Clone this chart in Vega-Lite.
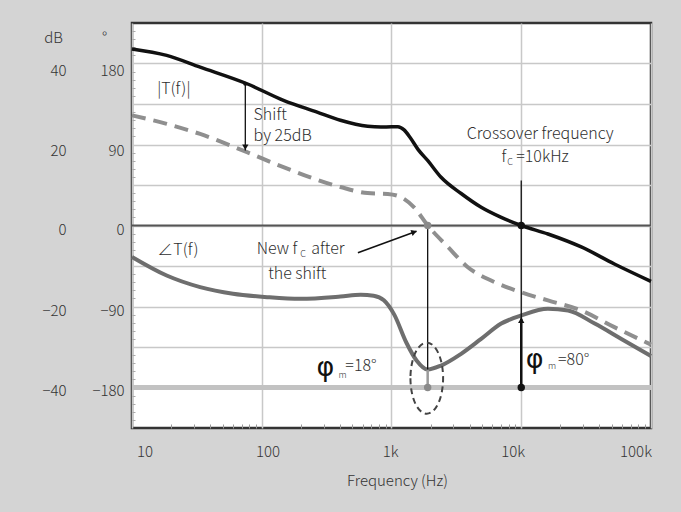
{
  "$schema": "https://vega.github.io/schema/vega-lite/v6.json",
  "width": 519,
  "height": 405,
  "autosize": "none",
  "padding": {"left": 132, "top": 23, "right": 30, "bottom": 84},
  "background": "#d4d4d4",
  "config": {
    "view": {"fill": "white", "stroke": "#333333", "strokeWidth": 2.5},
    "axis": {"labelFont": "Noto Sans CJK KR", "titleFont": "Noto Sans CJK KR", "labelFontWeight": 300, "titleFontWeight": 300, "labelColor": "#333333", "titleColor": "#333333", "labelFontSize": 15, "titleFontSize": 15},
    "text": {"font": "Noto Sans CJK KR", "fontWeight": 300, "fontSize": 16, "color": "#2e2e2e", "baseline": "middle"}
  },
  "datasets": {
    "mag": [
      {"f": 10, "db": 43.6}, {"f": 18.5, "db": 42.0}, {"f": 33.5, "db": 39.1}, {"f": 77, "db": 35.0},
      {"f": 147, "db": 30.9}, {"f": 267, "db": 28.0}, {"f": 404, "db": 26.0}, {"f": 655, "db": 24.5},
      {"f": 830, "db": 24.3}, {"f": 1000, "db": 24.4}, {"f": 1120, "db": 24.4}, {"f": 1250, "db": 23.6},
      {"f": 1400, "db": 21.6}, {"f": 1600, "db": 18.8}, {"f": 1905, "db": 16.0}, {"f": 2410, "db": 11.9},
      {"f": 3440, "db": 7.9}, {"f": 4910, "db": 4.5}, {"f": 7010, "db": 2.0}, {"f": 10000, "db": 0},
      {"f": 16070, "db": -2.1}, {"f": 29000, "db": -5.3}, {"f": 52200, "db": -9.5}, {"f": 100000, "db": -13.8}
    ],
    "shifted": [
      {"f": 10, "db": 27.2}, {"f": 18.5, "db": 25.1}, {"f": 33.5, "db": 22.6}, {"f": 77, "db": 18.1},
      {"f": 147, "db": 14.4}, {"f": 404, "db": 9.5}, {"f": 655, "db": 8.0}, {"f": 936, "db": 7.8},
      {"f": 1183, "db": 7.0}, {"f": 1493, "db": 4.5}, {"f": 1905, "db": 0}, {"f": 2718, "db": -5.3},
      {"f": 3875, "db": -10.3}, {"f": 5860, "db": -13.6}, {"f": 10000, "db": -16.5}, {"f": 16070, "db": -18.5},
      {"f": 29000, "db": -21.0}, {"f": 52200, "db": -25.1}, {"f": 100000, "db": -29.4}
    ],
    "phase": [
      {"f": 10, "deg": -35}, {"f": 18.5, "deg": -55.6}, {"f": 33.5, "deg": -68.5}, {"f": 60, "deg": -75.9},
      {"f": 110, "deg": -79.6}, {"f": 198, "deg": -81.5}, {"f": 404, "deg": -79}, {"f": 579, "deg": -77},
      {"f": 728, "deg": -78}, {"f": 873, "deg": -83}, {"f": 1050, "deg": -99}, {"f": 1300, "deg": -130},
      {"f": 1560, "deg": -150}, {"f": 1900, "deg": -160}, {"f": 2410, "deg": -155.6}, {"f": 3440, "deg": -142.6},
      {"f": 4910, "deg": -126}, {"f": 7010, "deg": -109}, {"f": 10000, "deg": -100}, {"f": 16070, "deg": -92.6},
      {"f": 22960, "deg": -94.4}, {"f": 36800, "deg": -109}, {"f": 59100, "deg": -126}, {"f": 100000, "deg": -145}
    ]
  },
  "layer": [
    {
      "data": {"name": "phase"},
      "mark": {"type": "line", "color": "#6e6e6e", "strokeWidth": 4, "interpolate": "monotone"},
      "encoding": {
        "x": {"field": "f", "type": "quantitative", "scale": {"type": "log", "domain": [10, 100000]}, "axis": null},
        "y": {"field": "deg", "type": "quantitative", "scale": {"domain": [-225, 225]},
          "axis": {"orient": "left", "values": [-180, -135, -90, -45, 0, 45, 90, 135, 180],
            "labelExpr": "datum.value % 90 == 0 ? datum.label : ''",
            "grid": true, "gridColor": "#c8c8c8", "gridWidth": 1.5, "ticks": false, "tickSize": 0, "domain": false,
            "labelPadding": 8, "labelOverlap": false, "labelFlush": false, "labelBound": false,
            "labelOffset": {"expr": "datum.value == 180 ? 7 : datum.value == 90 ? 5.5 : datum.value == 0 ? 4 : datum.value == -90 ? 4 : 3"},
            "title": "°", "titleAngle": 0, "titleAlign": "center", "titleBaseline": "alphabetic", "titleX": -28, "titleY": 19}}
      }
    },
    {
      "resolve": {"axis": {"x": "independent", "y": "independent"}},
      "layer": [
        {
          "data": {"values": [{"db": -40}]},
          "mark": {"type": "rule", "color": "#c2c2c2", "strokeWidth": 5},
          "encoding": {"y": {"field": "db", "type": "quantitative", "scale": {"domain": [-50, 50]}, "axis": null}}
        },
        {
          "data": {"values": [{"db": 0}]},
          "mark": {"type": "rule", "color": "#555555", "strokeWidth": 2},
          "encoding": {"y": {"field": "db", "type": "quantitative", "scale": {"domain": [-50, 50]}, "axis": null}}
        },
        {
          "data": {"name": "shifted"},
          "mark": {"type": "line", "color": "#8f8f8f", "strokeWidth": 4, "strokeDash": [14, 8], "interpolate": "monotone"},
          "encoding": {
            "x": {"field": "f", "type": "quantitative", "scale": {"type": "log", "domain": [10, 100000]},
              "axis": {"orient": "bottom", "values": [20, 30, 40, 50, 60, 70, 80, 90, 200, 300, 400, 500, 600, 700, 800, 900, 2000, 3000, 4000, 5000, 6000, 7000, 8000, 9000, 20000, 30000, 40000, 50000, 60000, 70000, 80000, 90000],
                "labels": false, "grid": false, "domain": false, "ticks": true, "tickSize": -4, "tickColor": "#999999", "tickWidth": 1, "title": null}},
            "y": {"field": "db", "type": "quantitative", "scale": {"domain": [-50, 50]},
              "axis": {"orient": "left", "values": [-48, -46, -44, -42, -38, -36, -34, -32, -28, -26, -24, -22, -18, -16, -14, -12, -8, -6, -4, -2, 2, 4, 6, 8, 12, 14, 16, 18, 22, 24, 26, 28, 32, 34, 36, 38, 42, 44, 46, 48],
                "labels": false, "grid": false, "domain": false, "ticks": true, "tickSize": -3, "tickColor": "#aaaaaa", "tickWidth": 1, "title": null}}
          }
        },
        {
          "data": {"name": "mag"},
          "mark": {"type": "line", "color": "#111111", "strokeWidth": 3.5, "interpolate": "monotone"},
          "encoding": {
            "x": {"field": "f", "type": "quantitative", "scale": {"type": "log", "domain": [10, 100000]},
              "axis": {"orient": "bottom", "values": [10, 100, 1000, 10000, 100000],
                "labelExpr": "datum.value >= 1000 ? format(datum.value / 1000, 'd') + 'k' : format(datum.value, 'd')",
                "grid": true, "gridColor": "#c8c8c8", "gridWidth": 1.5, "ticks": false, "tickSize": 0, "domain": false,
                "labelPadding": 16, "labelFlush": false, "labelOverlap": false, "labelBound": false,
                "labelOffset": {"expr": "datum.value == 10 ? 12.5 : datum.value == 100 ? 5.7 : datum.value == 1000 ? -1.3 : datum.value == 10000 ? -8.5 : -15.5"},
                "title": "Frequency (Hz)", "titleBaseline": "alphabetic", "titleY": 57, "titleX": 265}},
            "y": {"field": "db", "type": "quantitative", "scale": {"domain": [-50, 50]},
              "axis": {"orient": "left", "offset": 58, "values": [-40, -20, 0, 20, 40],
                "grid": false, "ticks": false, "tickSize": 0, "domain": false, "labelPadding": 8,
                "labelOverlap": false, "labelFlush": false, "labelBound": false,
                "labelOffset": {"expr": "datum.value == 40 ? 7 : datum.value == 20 ? 5.5 : datum.value == 0 ? 4 : datum.value == -20 ? 4 : 3"},
                "title": "dB", "titleAngle": 0, "titleAlign": "center", "titleBaseline": "alphabetic", "titleX": -21, "titleY": 19}}
          }
        },
        {
          "data": {"values": [{"f": 74.7, "db": 35, "db2": 18.5}, {"f": 10000, "db": 11.1, "db2": -40}, {"f": 1900, "db": 0, "db2": -35.6}]},
          "mark": {"type": "rule", "color": "#111111", "strokeWidth": 1.3},
          "encoding": {
            "x": {"field": "f", "type": "quantitative", "scale": {"type": "log", "domain": [10, 100000]}, "axis": null},
            "y": {"field": "db", "type": "quantitative", "scale": {"domain": [-50, 50]}, "axis": null},
            "y2": {"field": "db2"}
          }
        },
        {
          "data": {"values": [{"f": 10000, "db": -23, "db2": -40}]},
          "mark": {"type": "rule", "color": "#111111", "strokeWidth": 2.5},
          "encoding": {
            "x": {"field": "f", "type": "quantitative", "scale": {"type": "log", "domain": [10, 100000]}, "axis": null},
            "y": {"field": "db", "type": "quantitative", "scale": {"domain": [-50, 50]}, "axis": null},
            "y2": {"field": "db2"}
          }
        },
        {
          "data": {"values": [{"f": 1900, "db": -35.6, "db2": -40}]},
          "mark": {"type": "rule", "color": "#9a9a9a", "strokeWidth": 2.5},
          "encoding": {
            "x": {"field": "f", "type": "quantitative", "scale": {"type": "log", "domain": [10, 100000]}, "axis": null},
            "y": {"field": "db", "type": "quantitative", "scale": {"domain": [-50, 50]}, "axis": null},
            "y2": {"field": "db2"}
          }
        },
        {
          "data": {"values": [{"f": 551, "f2": 1560, "db": -6.7, "db2": -1.4}]},
          "mark": {"type": "rule", "color": "#111111", "strokeWidth": 1.6},
          "encoding": {
            "x": {"field": "f", "type": "quantitative", "scale": {"type": "log", "domain": [10, 100000]}, "axis": null},
            "x2": {"field": "f2"},
            "y": {"field": "db", "type": "quantitative", "scale": {"domain": [-50, 50]}, "axis": null},
            "y2": {"field": "db2"}
          }
        },
        {
          "data": {"values": [{"f": 10000, "db": 0}, {"f": 10000, "db": -40}]},
          "mark": {"type": "point", "filled": true, "color": "#111111", "size": 55, "opacity": 1},
          "encoding": {
            "x": {"field": "f", "type": "quantitative", "scale": {"type": "log", "domain": [10, 100000]}, "axis": null},
            "y": {"field": "db", "type": "quantitative", "scale": {"domain": [-50, 50]}, "axis": null}
          }
        },
        {
          "data": {"values": [{"f": 74.7, "db": 35}]},
          "mark": {"type": "point", "filled": true, "color": "#111111", "size": 18, "opacity": 1},
          "encoding": {
            "x": {"field": "f", "type": "quantitative", "scale": {"type": "log", "domain": [10, 100000]}, "axis": null},
            "y": {"field": "db", "type": "quantitative", "scale": {"domain": [-50, 50]}, "axis": null}
          }
        },
        {
          "data": {"values": [{"f": 1900, "db": 0}, {"f": 1900, "db": -40}]},
          "mark": {"type": "point", "filled": true, "color": "#8a8a8a", "size": 55, "opacity": 1},
          "encoding": {
            "x": {"field": "f", "type": "quantitative", "scale": {"type": "log", "domain": [10, 100000]}, "axis": null},
            "y": {"field": "db", "type": "quantitative", "scale": {"domain": [-50, 50]}, "axis": null}
          }
        },
        {
          "data": {"values": [{"f": 74.7, "db": 19.3}]},
          "mark": {"type": "point", "filled": true, "shape": "triangle-down", "color": "#111111", "size": 40, "opacity": 1},
          "encoding": {
            "x": {"field": "f", "type": "quantitative", "scale": {"type": "log", "domain": [10, 100000]}, "axis": null},
            "y": {"field": "db", "type": "quantitative", "scale": {"domain": [-50, 50]}, "axis": null}
          }
        },
        {
          "data": {"values": [{"f": 10000, "db": -23.4}]},
          "mark": {"type": "point", "filled": true, "shape": "triangle-up", "color": "#111111", "size": 40, "opacity": 1},
          "encoding": {
            "x": {"field": "f", "type": "quantitative", "scale": {"type": "log", "domain": [10, 100000]}, "axis": null},
            "y": {"field": "db", "type": "quantitative", "scale": {"domain": [-50, 50]}, "axis": null}
          }
        },
        {
          "data": {"values": [{"f": 1494, "db": -1.6}]},
          "mark": {"type": "point", "filled": true, "shape": "triangle-right", "angle": -20, "color": "#111111", "size": 40, "opacity": 1},
          "encoding": {
            "x": {"field": "f", "type": "quantitative", "scale": {"type": "log", "domain": [10, 100000]}, "axis": null},
            "y": {"field": "db", "type": "quantitative", "scale": {"domain": [-50, 50]}, "axis": null}
          }
        },
        {
          "data": {"values": [{"f": 1870, "db": -37.7}]},
          "mark": {"type": "point", "filled": false, "shape": "M -0.46 0 A 0.46 1 0 1 0 0.46 0 A 0.46 1 0 1 0 -0.46 0 Z", "color": "#444444", "strokeWidth": 2, "strokeDash": [6, 4], "size": 5041, "opacity": 1},
          "encoding": {
            "x": {"field": "f", "type": "quantitative", "scale": {"type": "log", "domain": [10, 100000]}, "axis": null},
            "y": {"field": "db", "type": "quantitative", "scale": {"domain": [-50, 50]}, "axis": null}
          }
        },
        {
          "data": {"values": [
            {"f": 21, "db": 33.8, "label": "|T(f)|"},
            {"f": 22.6, "db": -6.0, "label": "∠T(f)"},
            {"f": 14000, "db": 22.5, "label": "Crossover frequency"},
            {"f": 188, "db": -12.0, "label": "the shift"}
          ]},
          "mark": {"type": "text", "align": "center"},
          "encoding": {
            "x": {"field": "f", "type": "quantitative", "scale": {"type": "log", "domain": [10, 100000]}, "axis": null},
            "y": {"field": "db", "type": "quantitative", "scale": {"domain": [-50, 50]}, "axis": null},
            "text": {"field": "label"}
          }
        },
        {
          "data": {"values": [
            {"f": 86.5, "db": 27.4, "label": "Shift"},
            {"f": 86.5, "db": 22.0, "label": "by 25dB"},
            {"f": 241, "db": -5.9, "label": "after"},
            {"f": 9150, "db": 17.0, "label": "=10kHz"},
            {"f": 441, "db": -34.8, "label": "=18°"},
            {"f": 19200, "db": -33.3, "label": "=80°"}
          ]},
          "mark": {"type": "text", "align": "left"},
          "encoding": {
            "x": {"field": "f", "type": "quantitative", "scale": {"type": "log", "domain": [10, 100000]}, "axis": null},
            "y": {"field": "db", "type": "quantitative", "scale": {"domain": [-50, 50]}, "axis": null},
            "text": {"field": "label"}
          }
        },
        {
          "data": {"values": [
            {"f": 188, "db": -5.9, "label": "New f"},
            {"f": 7660, "db": 17.0, "label": "f"}
          ]},
          "mark": {"type": "text", "align": "right"},
          "encoding": {
            "x": {"field": "f", "type": "quantitative", "scale": {"type": "log", "domain": [10, 100000]}, "axis": null},
            "y": {"field": "db", "type": "quantitative", "scale": {"domain": [-50, 50]}, "axis": null},
            "text": {"field": "label"}
          }
        },
        {
          "data": {"values": [
            {"f": 198, "db": -7.0, "label": "C"},
            {"f": 7800, "db": 15.6, "label": "C"},
            {"f": 390, "db": -36.8, "label": "m"},
            {"f": 16070, "db": -34.8, "label": "m"}
          ]},
          "mark": {"type": "text", "align": "left", "fontSize": 9},
          "encoding": {
            "x": {"field": "f", "type": "quantitative", "scale": {"type": "log", "domain": [10, 100000]}, "axis": null},
            "y": {"field": "db", "type": "quantitative", "scale": {"domain": [-50, 50]}, "axis": null},
            "text": {"field": "label"}
          }
        },
        {
          "data": {"values": [
            {"f": 309, "db": -35.1, "label": "φ"},
            {"f": 12700, "db": -33.3, "label": "φ"}
          ]},
          "mark": {"type": "text", "align": "center", "fontSize": 27, "fontWeight": "normal", "font": "DejaVu Sans", "color": "#111111"},
          "encoding": {
            "x": {"field": "f", "type": "quantitative", "scale": {"type": "log", "domain": [10, 100000]}, "axis": null},
            "y": {"field": "db", "type": "quantitative", "scale": {"domain": [-50, 50]}, "axis": null},
            "text": {"field": "label"}
          }
        }
      ]
    }
  ],
  "resolve": {"scale": {"y": "independent"}}
}
